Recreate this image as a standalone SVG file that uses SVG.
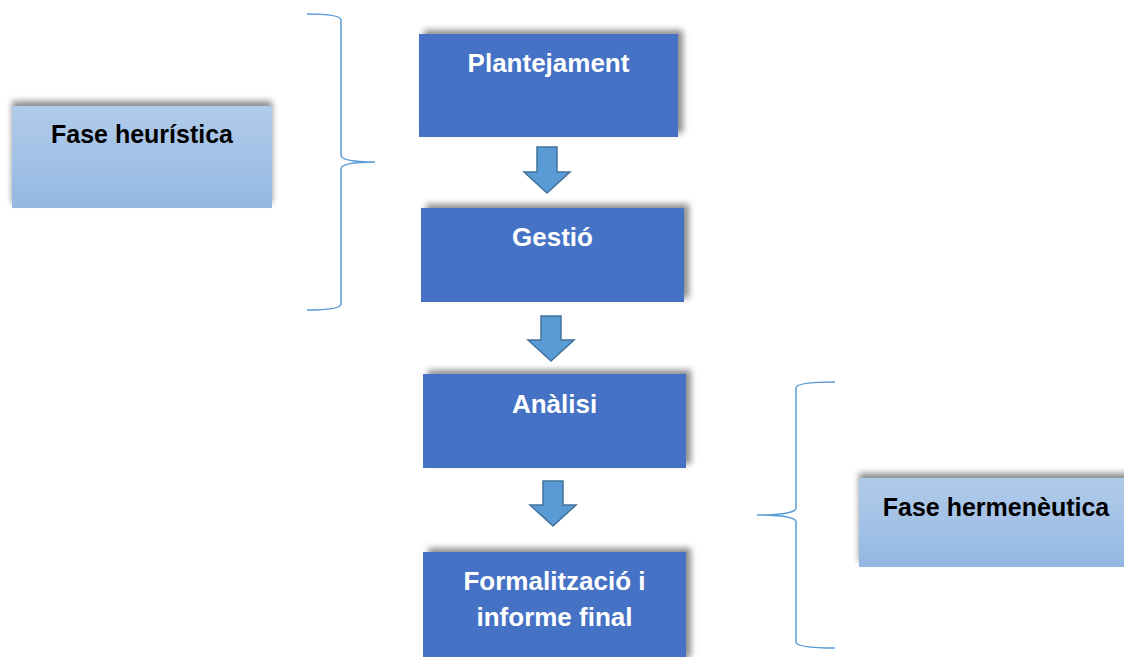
<svg xmlns="http://www.w3.org/2000/svg" width="1124" height="657" viewBox="0 0 1124 657">
<defs>
<linearGradient id="lg" x1="0" y1="0" x2="0" y2="1">
<stop offset="0" stop-color="#b1cbea"/>
<stop offset="1" stop-color="#94b8e2"/>
</linearGradient>
<filter id="shTR" x="-10%" y="-20%" width="125%" height="140%">
<feGaussianBlur in="SourceAlpha" stdDeviation="3"/>
<feOffset dx="5" dy="-4" result="b"/>
<feComponentTransfer><feFuncA type="linear" slope="0.45"/></feComponentTransfer>
<feMerge><feMergeNode/><feMergeNode in="SourceGraphic"/></feMerge>
</filter>
<filter id="shT" x="-10%" y="-20%" width="125%" height="140%">
<feGaussianBlur in="SourceAlpha" stdDeviation="3"/>
<feOffset dx="0" dy="-5" result="b"/>
<feComponentTransfer><feFuncA type="linear" slope="0.45"/></feComponentTransfer>
<feMerge><feMergeNode/><feMergeNode in="SourceGraphic"/></feMerge>
</filter>
</defs>
<style>
.step{fill:#4472c4;filter:url(#shTR);}
.phase{fill:url(#lg);filter:url(#shT);}
.wt{font-family:"Liberation Sans",Arial,sans-serif;font-weight:bold;font-size:26px;fill:#ffffff;text-anchor:middle;}
.bt{font-family:"Liberation Sans",Arial,sans-serif;font-weight:bold;font-size:25px;fill:#000000;text-anchor:middle;}
.arrow{fill:#5b9bd5;stroke:#41719c;stroke-width:1.5;}
.brace{fill:none;stroke:#5b9bd5;stroke-width:1.5;}
</style>
<rect width="1124" height="657" fill="#ffffff"/>
<g id="fase-heuristica">
<rect class="phase" x="12" y="106" width="260" height="102"/>
<text class="bt" x="142" y="143">Fase heurística</text>
</g>
<g id="fase-hermeneutica">
<rect class="phase" x="859" y="478" width="270" height="89"/>
<text class="bt" x="996" y="516">Fase hermenèutica</text>
</g>
<g id="plantejament">
<rect class="step" x="419" y="34" width="259" height="103"/>
<text class="wt" x="548.5" y="72">Plantejament</text>
</g>
<g id="gestio">
<rect class="step" x="421" y="208" width="263" height="94"/>
<text class="wt" x="552.5" y="246">Gestió</text>
</g>
<g id="analisi">
<rect class="step" x="423" y="374" width="263" height="94"/>
<text class="wt" x="554.5" y="413">Anàlisi</text>
</g>
<g id="formalitzacio">
<rect class="step" x="423" y="552" width="263" height="110"/>
<text class="wt" x="554.5" y="590">Formalització i</text>
<text class="wt" x="554.5" y="626">informe final</text>
</g>
<g id="connectors">
<path class="arrow" d="M537,147 H557 V172 H570 L547,193 L524,172 H537 Z"/>
<path class="arrow" d="M541,316 H561 V340 H574 L551,361 L528,340 H541 Z"/>
<path class="arrow" d="M543,481 H563 V505 H576 L553,526 L530,505 H543 Z"/>
<path class="brace" d="M307,14 C325,14 341,15 341,20 V155 C341,160 355,162 375,162 C355,162 341,164 341,169 V304 C341,309 325,310 307,310"/>
<path class="brace" d="M835,382 C815,382 796,383 796,388 V508 C796,513 778,515 757,515 C778,515 796,517 796,522 V642 C796,647 815,648 835,648"/>
</g>
</svg>
